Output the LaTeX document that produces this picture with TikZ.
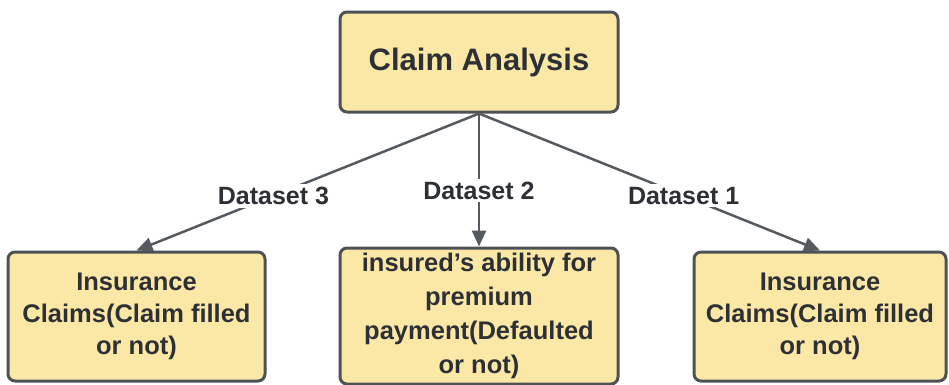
\documentclass[tikz,border=0pt]{standalone}
\usepackage{fontspec}
\setmainfont{Liberation Sans}
\usetikzlibrary{arrows.meta}
\definecolor{boxfill}{RGB}{252,232,166}
\definecolor{boxline}{RGB}{77,82,87}
\definecolor{txt}{RGB}{45,49,54}
\definecolor{conn}{RGB}{85,90,96}
\tikzset{
  box/.style={draw=boxline, fill=boxfill, line width=3pt, rounded corners=7pt,
    align=center, text=txt, font=\bfseries\fontsize{25.5}{32}\selectfont, inner sep=2pt},
  lbl/.style={fill=white, text=txt, font=\bfseries\fontsize{25}{28}\selectfont, inner sep=3pt},
  conn/.style={draw=conn, line width=2.5pt, -{Triangle[length=16pt,width=14pt]}}
}
\begin{document}
\begin{tikzpicture}[x=1pt,y=-1pt]
\useasboundingbox (0,0) rectangle (949,384);
\node[box, minimum width=278pt, minimum height=100pt, font=\bfseries\fontsize{31}{36}\selectfont] (top) at (479,62) {Claim Analysis};
\node[box, minimum width=257pt, minimum height=129pt] (left) at (136.5,316.5) {Insurance\\Claims(Claim filled\\or not)};
\node[box, minimum width=278pt, minimum height=136pt, font=\bfseries\fontsize{25.5}{34}\selectfont] (mid) at (479,316) {insured’s ability for\\premium\\payment(Defaulted\\or not)};
\node[box, minimum width=252pt, minimum height=129pt] (right) at (820,316.5) {Insurance\\Claims(Claim filled\\or not)};
\draw[conn] (top.south) -- node[lbl, pos=0.6] {Dataset 3} (left.north);
\draw[conn] (top.south) -- node[lbl, pos=0.58] {Dataset 2} (mid.north);
\draw[conn] (top.south) -- node[lbl, pos=0.6] {Dataset 1} (right.north);
\end{tikzpicture}
\end{document}
